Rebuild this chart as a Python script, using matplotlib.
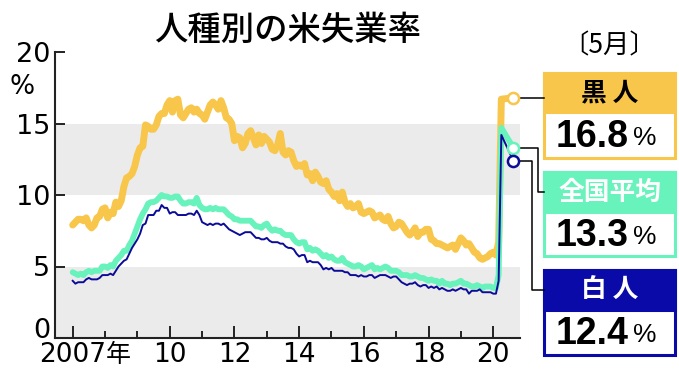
import matplotlib.pyplot as plt
import numpy as np
from matplotlib.patches import Rectangle

plt.rcParams['font.family'] = ['DejaVu Sans', 'Noto Sans CJK JP']
JP = ['Noto Sans CJK JP', 'DejaVu Sans']
NUM = ['Liberation Sans', 'DejaVu Sans']

# monthly unemployment rate (%), Jan 2007 - May 2020
black = [7.9, 8.1, 8.3, 8.3, 8.2, 8.4, 7.9, 7.7, 7.9, 8.4, 8.5, 9.0,
         9.1, 8.4, 8.8, 8.7, 9.5, 9.2, 9.6, 10.6, 11.2, 11.3, 11.5, 12.0,
         12.8, 13.3, 13.4, 14.9, 14.8, 14.6, 14.6, 14.9, 15.5, 15.7, 15.7, 16.3,
         16.6, 15.8, 16.6, 16.7, 15.6, 15.4, 15.7, 16.0, 16.1, 15.8, 16.0, 15.7,
         15.6, 15.3, 15.8, 16.3, 16.5, 16.3, 16.0, 16.6, 16.1, 15.4, 15.3, 15.0,
         13.8, 14.1, 14.0, 13.3, 13.6, 14.3, 14.5, 14.0, 13.5, 14.2, 13.6, 14.1,
         13.9, 13.7, 13.2, 13.1, 13.5, 14.3, 13.0, 12.8, 13.1, 13.0, 12.4, 12.0,
         12.1, 12.0, 12.2, 11.4, 11.5, 11.0, 11.6, 11.3, 10.9, 10.8, 11.0, 10.4,
         10.2, 9.9, 10.1, 9.6, 10.2, 9.5, 9.2, 9.4, 9.1, 9.2, 9.4, 8.8,
         8.7, 8.8, 8.9, 8.8, 8.4, 8.5, 8.6, 8.3, 8.2, 8.5, 8.0, 7.7,
         7.8, 8.1, 8.0, 7.7, 7.4, 7.2, 7.4, 7.7, 7.1, 7.4, 7.4, 7.6,
         7.6, 6.9, 6.8, 6.6, 6.6, 6.5, 6.4, 6.3, 6.4, 6.5, 6.2, 6.6,
         7.0, 6.8, 6.5, 6.6, 6.3, 6.0, 5.9, 5.6, 5.5, 5.6, 5.7, 5.9,
         6.0, 5.8, 6.7, 16.7, 16.8]
total = [4.6, 4.5, 4.4, 4.5, 4.4, 4.6, 4.7, 4.6, 4.7, 4.7, 4.7, 5.0,
         5.0, 4.9, 5.1, 5.0, 5.4, 5.6, 5.8, 6.1, 6.1, 6.5, 6.8, 7.3,
         7.8, 8.3, 8.7, 9.0, 9.4, 9.5, 9.5, 9.6, 9.8, 10.0, 9.9, 9.9,
         9.8, 9.8, 9.9, 9.9, 9.6, 9.4, 9.4, 9.5, 9.5, 9.4, 9.8, 9.3,
         9.1, 9.0, 9.0, 9.1, 9.0, 9.1, 9.0, 9.0, 9.0, 8.8, 8.6, 8.5,
         8.3, 8.3, 8.2, 8.2, 8.2, 8.2, 8.2, 8.0, 7.8, 7.8, 7.7, 7.9,
         8.0, 7.7, 7.5, 7.6, 7.5, 7.5, 7.3, 7.2, 7.2, 7.2, 6.9, 6.7,
         6.6, 6.7, 6.7, 6.2, 6.3, 6.1, 6.2, 6.1, 5.9, 5.7, 5.8, 5.6,
         5.7, 5.5, 5.4, 5.4, 5.6, 5.3, 5.2, 5.1, 5.0, 5.0, 5.1, 5.0,
         4.8, 4.9, 5.0, 5.1, 4.8, 4.9, 4.8, 4.9, 5.0, 4.9, 4.7, 4.7,
         4.7, 4.6, 4.4, 4.4, 4.4, 4.3, 4.3, 4.4, 4.3, 4.2, 4.2, 4.1,
         4.0, 4.1, 4.0, 4.0, 3.8, 4.0, 3.8, 3.8, 3.7, 3.8, 3.8, 3.9,
         4.0, 3.8, 3.8, 3.7, 3.6, 3.6, 3.7, 3.6, 3.5, 3.6, 3.6, 3.6,
         3.5, 3.5, 4.4, 14.7, 13.3]
white = [4.0, 3.8, 3.9, 3.9, 3.9, 4.1, 4.2, 4.1, 4.1, 4.1, 4.2, 4.4,
         4.4, 4.4, 4.5, 4.4, 4.7, 5.0, 5.2, 5.4, 5.5, 5.9, 6.3, 6.6,
         6.9, 7.3, 7.9, 8.0, 8.6, 8.6, 8.6, 8.9, 8.9, 9.3, 9.1, 9.1,
         8.7, 8.8, 8.8, 8.6, 8.6, 8.6, 8.6, 8.7, 8.7, 8.6, 8.9, 8.6,
         8.1, 8.0, 7.9, 8.0, 7.9, 8.0, 8.0, 7.9, 8.0, 7.8, 7.6, 7.5,
         7.4, 7.3, 7.2, 7.3, 7.4, 7.4, 7.4, 7.2, 7.0, 7.0, 6.9, 6.9,
         7.0, 6.8, 6.7, 6.7, 6.7, 6.6, 6.6, 6.4, 6.3, 6.3, 6.2, 5.9,
         5.7, 5.8, 5.8, 5.3, 5.4, 5.3, 5.3, 5.3, 5.1, 4.8, 4.9, 4.8,
         4.9, 4.7, 4.7, 4.7, 4.7, 4.6, 4.6, 4.4, 4.4, 4.4, 4.3, 4.4,
         4.3, 4.3, 4.4, 4.4, 4.2, 4.3, 4.4, 4.4, 4.4, 4.3, 4.2, 4.3,
         4.3, 4.1, 3.9, 3.8, 3.7, 3.8, 3.8, 3.9, 3.7, 3.6, 3.7, 3.7,
         3.5, 3.6, 3.5, 3.6, 3.4, 3.5, 3.4, 3.3, 3.3, 3.4, 3.3, 3.4,
         3.5, 3.4, 3.4, 3.1, 3.3, 3.3, 3.3, 3.4, 3.2, 3.2, 3.2, 3.2,
         3.1, 3.1, 4.0, 14.2, 12.4]

tick_years = [2007, 2010, 2012, 2014, 2016, 2018, 2020]
tick_labels = ['2007', '10', '12', '14', '16', '18', '20']
minor_years = [2008, 2009, 2011, 2013, 2015, 2017, 2019]
y_ticks = [0, 5, 10, 15, 20]
bands = [(0, 5), (10, 15)]
names = ['黒 人', '全国平均', '白 人']

YELLOW = '#f8c64b'
MINT = '#68f2bc'
NAVY = '#0b0b98'
NAVY_BOX = '#0a0aa8'

# months on a year scale; the May value is pulled out to the callout marker
callout_x = 2020.62
x = 2007 + np.arange(len(black)) / 12
x[-1] = callout_x

fig = plt.figure(figsize=(6.79, 3.84), dpi=100)
ov = fig.add_axes([0, 0, 1, 1], zorder=0)
ov.set_xlim(0, 679)
ov.set_ylim(384, 0)
ov.axis('off')

ax = fig.add_axes([55/679, 46/384, 465/679, 286/384], zorder=1)
ax.patch.set_visible(False)
for lo, hi in bands:
    ax.axhspan(lo, hi, color='#ebebeb', lw=0, zorder=0)

ax.plot(x, black, color=YELLOW, lw=5, solid_joinstyle='round', solid_capstyle='round', zorder=3)
ax.plot(x, total, color=MINT, lw=4.2, solid_joinstyle='round', solid_capstyle='round', zorder=4)
ax.plot(x, white, color=NAVY, lw=1.4, zorder=5)
for s, c in [(black, YELLOW), (total, MINT), (white, NAVY)]:
    ax.plot(x[-1], s[-1], 'o', ms=8, mfc='white', mec=c, mew=1.8, zorder=6, clip_on=False)

ax.set_xlim(2006.453, 2020.827)
ax.set_ylim(0, 20)
for side in ['top', 'right']:
    ax.spines[side].set_visible(False)
for side in ['left', 'bottom']:
    ax.spines[side].set_linewidth(1.5)
    ax.spines[side].set_color('#222222')

ax.set_yticks(y_ticks)
ax.set_yticklabels([str(v) for v in y_ticks])
ax.set_xticks(tick_years)
ax.set_xticklabels(tick_labels)
ax.set_xticks(minor_years, minor=True)
ax.tick_params(axis='y', direction='in', length=7.5, width=1.4, pad=3.5,
               labelsize=19.5, color='#222222')
ax.tick_params(axis='x', which='major', direction='in', length=8.5, width=1.4,
               pad=3, labelsize=19, color='#222222')
ax.tick_params(axis='x', which='minor', direction='in', length=5, width=1.4, color='#222222')
# the "0" sits on top of the base line
ax.get_yticklabels()[0].set_verticalalignment('baseline')

ax.annotate('年', xy=(1, 0), xycoords=ax.get_xticklabels()[0], xytext=(0, 0),
            textcoords='offset points', ha='left', va='bottom', fontsize=18, family=JP)

ov.text(22, 87, '%', ha='center', va='center', fontsize=19)
ov.text(288, 30, '人種別の米失業率', ha='center', va='center', fontsize=24,
        family=JP, fontweight='medium')
ov.text(205, 304, '（出所）米労働省', ha='center', va='center', fontsize=15.5,
        family=JP, color='#222222')
ov.text(609, 46, '〔5月〕', ha='center', va='center', fontsize=19, family=JP)

# callout boxes: (top, header bottom, bottom, colour, name colour, elbow x)
boxes = [(73, 112, 158, YELLOW, 'black', None),
         (172, 212, 256, MINT, 'white', 538),
         (270, 310, 355, NAVY_BOX, 'white', 532)]
left, width = 544, 131
for (top, mid, bot, c, nc, elbow), name, s in zip(boxes, names, [black, total, white]):
    ov.add_patch(Rectangle((left, top), width, bot - top, fc='white', ec=c, lw=2.2))
    ov.add_patch(Rectangle((left, top), width, mid - top, fc=c, ec=c, lw=2.2))
    ov.text(left + width / 2, (top + mid) / 2, name, ha='center', va='center',
            fontsize=18.5, family=JP, fontweight='bold', color=nc)
    vy = (mid + bot) / 2 + 2
    ov.text(629, vy, f'{s[-1]:.1f}', ha='right', va='center', fontsize=27,
            fontweight='bold', family=NUM)
    ov.text(633, vy + 1, '%', ha='left', va='center', fontsize=19, family=NUM)

    px, py = ov.transData.inverted().transform(ax.transData.transform((x[-1], s[-1])))
    if elbow is None:
        ov.plot([px, left], [py, py], color='black', lw=1.1)
    else:
        hy = (top + mid) / 2
        ov.plot([px, elbow, elbow, left], [py, py, hy, hy], color='black', lw=1.1)

fig.savefig('out.png', dpi=100)
